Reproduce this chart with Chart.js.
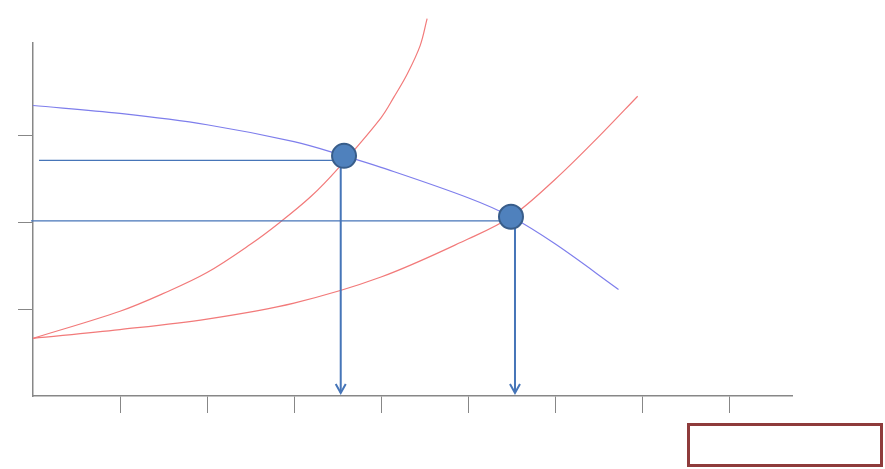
<!DOCTYPE html>
<html>
<head>
<meta charset="utf-8">
<script src="https://cdn.jsdelivr.net/npm/chart.js@4/dist/chart.umd.min.js"></script>
<style>
  body { margin: 0; background: #fff; }
</style>
</head>
<body>
<canvas id="myChart" width="885" height="469"></canvas>
<script>
// axis ticks (no labels on the axes)
const xTicks = [1, 2, 3, 4, 5, 6, 7, 8];
const yTicks = [1, 2, 3];
const X_MAX = 8.724;
const Y_MAX = 4.06;

// blue falling curve
const blueX = [0, 1, 2, 3, 3.575, 4, 5, 5.494, 6, 6.73];
const blueY = [3.341, 3.25, 3.12, 2.925, 2.762, 2.63, 2.28, 2.061, 1.75, 1.226];

// steep red curve
const redAX = [0, 1, 1.5, 2, 2.5, 2.84, 3.2, 3.5, 4, 4.15, 4.3, 4.45, 4.53];
const redAY = [0.663, 0.975, 1.18, 1.42, 1.745, 1.999, 2.30, 2.61, 3.2, 3.44, 3.70, 4.03, 4.34];

// flatter red curve
const redBX = [0, 1, 2, 3, 4, 5, 5.494, 6, 6.5, 6.95];
const redBY = [0.663, 0.764, 0.885, 1.069, 1.368, 1.805, 2.061, 2.49, 2.98, 3.448];

// the two crossing points
const crossX = [3.575, 5.494];
const crossY = [2.762, 2.061];

// guide lines: horizontal from axis to point, arrows down to x axis
const hLineStart = [0.069, -0.023];
const hLineY = [2.709, 2.015];
const arrowX = [3.537, 5.54];
const arrowTop = [2.709, 2.015];
const arrowBottom = 0.034;

const toPts = (xs, ys) => xs.map((x, i) => ({ x: x, y: ys[i] }));

const curve = (data, color) => ({
    type: 'scatter',
    data: data,
    showLine: true,
    borderColor: color,
    borderWidth: 1.2,
    pointRadius: 0,
    tension: 0.35,
    clip: false,
    order: 5
});

const straight = (data, width) => ({
    type: 'scatter',
    data: data,
    showLine: true,
    borderColor: '#4675B8',
    borderWidth: width,
    pointRadius: 0,
    clip: false,
    order: 3
});

const datasets = [
    {
        type: 'scatter',
        data: toPts(crossX, crossY),
        pointRadius: 12,
        pointBackgroundColor: '#4F81BD',
        pointBorderColor: '#385D8A',
        pointBorderWidth: 2,
        clip: false,
        order: 1
    },
    curve(toPts(blueX, blueY), '#7E7EEC'),
    curve(toPts(redAX, redAY), '#F27A7A'),
    curve(toPts(redBX, redBY), '#F27A7A')
];
for (let i = 0; i < crossX.length; i++) {
    datasets.push(straight([{ x: hLineStart[i], y: hLineY[i] }, { x: crossX[i], y: hLineY[i] }], 1.2));
    datasets.push(straight([{ x: arrowX[i], y: arrowTop[i] }, { x: arrowX[i], y: arrowBottom }], 2));
}

// open arrow heads at the bottom of the vertical lines, plus the empty box
const extras = {
    id: 'extras',
    afterDatasetsDraw(chart) {
        const ctx = chart.ctx;
        const xs = chart.scales.x, ys = chart.scales.y;
        ctx.save();
        ctx.strokeStyle = '#4675B8';
        ctx.lineWidth = 2;
        for (let i = 0; i < arrowX.length; i++) {
            const px = xs.getPixelForValue(arrowX[i]);
            const py = ys.getPixelForValue(arrowBottom);
            ctx.beginPath();
            ctx.moveTo(px - 5, py - 9);
            ctx.lineTo(px, py);
            ctx.lineTo(px + 5, py - 9);
            ctx.stroke();
        }
        ctx.strokeStyle = '#8E3B3B';
        ctx.lineWidth = 3;
        ctx.strokeRect(688.5, 424.5, 193, 41);
        ctx.restore();
    }
};

new Chart(document.getElementById('myChart'), {
    data: { datasets: datasets },
    plugins: [extras],
    options: {
        responsive: false,
        animation: false,
        layout: { padding: { top: 43, right: 93, left: 0, bottom: 0 } },
        plugins: { legend: { display: false }, tooltip: { enabled: false } },
        scales: {
            x: {
                type: 'linear',
                min: 0,
                max: X_MAX,
                afterBuildTicks: s => { s.ticks = xTicks.map(v => ({ value: v })); },
                afterFit: s => { s.height = 73; },
                ticks: { display: false },
                grid: { drawOnChartArea: false, drawTicks: true, tickLength: 17, color: '#878787', lineWidth: 1 },
                border: { display: true, color: '#878787', width: 1.5 }
            },
            y: {
                type: 'linear',
                min: 0,
                max: Y_MAX,
                afterBuildTicks: s => { s.ticks = yTicks.map(v => ({ value: v })); },
                afterFit: s => { s.width = 33; },
                ticks: { display: false },
                grid: { drawOnChartArea: false, drawTicks: true, tickLength: 15, color: '#878787', lineWidth: 1 },
                border: { display: true, color: '#878787', width: 1.5 }
            }
        }
    }
});
</script>
</body>
</html>
